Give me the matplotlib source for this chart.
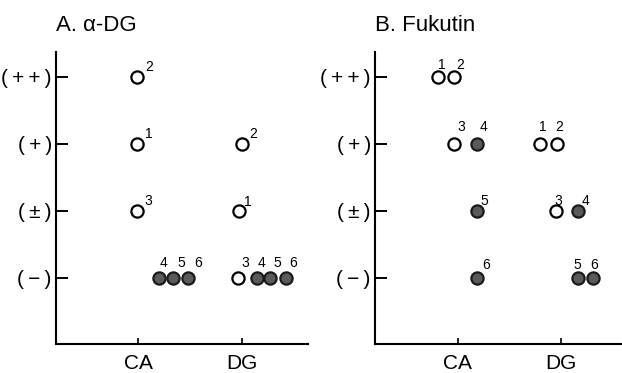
import matplotlib
matplotlib.use("Agg")
import matplotlib.pyplot as plt

plt.rcParams['font.family'] = ['Liberation Sans', 'DejaVu Sans']

categories = ["CA", "DG"]
levels = ["(\u2009−\u2009)", "(\u2009±\u2009)", "(\u2009+\u2009)", "(\u2009+\u2009+\u2009)"]

# Panel A: alpha-DG  (category index + small horizontal jitter, level index, sample id, filled?)
a_cat = [0, 0, 0, 0, 0, 0, 1, 1, 1, 1, 1, 1]
a_jit = [-0.01, -0.01, -0.01, 0.20, 0.335, 0.48, 0.005, -0.02, -0.03, 0.15, 0.28, 0.43]
a_lev = [3, 2, 1, 0, 0, 0, 2, 1, 0, 0, 0, 0]
a_id = ["2", "1", "3", "4", "5", "6", "2", "1", "3", "4", "5", "6"]
a_fill = [False, False, False, True, True, True, False, False, False, True, True, True]
a_lbl_off = [(12, -10), (11, -10), (11, -10), (4, -15), (8, -15), (10, -15),
             (11, -10), (8, -9), (7, -15), (5, -15), (7, -15), (7, -15)]

# Panel B: Fukutin
b_cat = [0, 0, 0, 0, 0, 0, 1, 1, 1, 1, 1, 1]
b_jit = [-0.19, -0.04, -0.04, 0.19, 0.19, 0.19, -0.20, -0.04, -0.05, 0.16, 0.16, 0.31]
b_lev = [3, 3, 2, 2, 1, 0, 2, 2, 1, 1, 0, 0]
b_id = ["1", "2", "3", "4", "5", "6", "1", "2", "3", "4", "5", "6"]
b_fill = [False, False, False, True, True, True, False, False, False, True, True, True]
b_lbl_off = [(4, -12), (7, -12), (8, -17), (6, -17), (7, -10), (9, -13),
             (2, -17), (2, -17), (2, -10), (8, -10), (0, -13), (1, -13)]

fig = plt.figure(figsize=(6.22, 3.73), dpi=100)
axA = fig.add_axes([56/622, 29/373, 252/622, 292/373])
axB = fig.add_axes([375/622, 29/373, 247/622, 292/373])

def draw(ax, cat, jit, lev, ids, fill, offs, title, xmax):
    for c, j, l, s, f, o in zip(cat, jit, lev, ids, fill, offs):
        x = c + j
        ax.plot([x], [l], marker='o', ms=8.8, mew=1.6,
                mfc='#5a5a5a' if f else 'white', mec='#1a1a1a' if f else 'black',
                ls='none', zorder=3)
        ax.annotate(s, (x, l), xytext=(o[0]*0.72, -o[1]*0.72), textcoords='offset points',
                    ha='center', va='center', fontsize=10)
    ax.set_xlim(-0.80, xmax)
    ax.set_ylim(-0.99, 3.37)
    ax.set_xticks(range(len(categories)))
    ax.set_xticklabels(categories, fontsize=15)
    ax.set_yticks(range(len(levels)))
    ax.set_yticklabels(levels, fontsize=15)
    for sp in ['top', 'right']:
        ax.spines[sp].set_visible(False)
    for sp in ['left', 'bottom']:
        ax.spines[sp].set_linewidth(1.5)
    ax.tick_params(axis='y', direction='in', length=8.6, width=1.4, pad=3)
    ax.tick_params(axis='x', direction='in', length=4.3, width=1.2, pad=7)
    ax.set_title(title, loc='left', fontsize=16, pad=15, x=0.0)

draw(axA, a_cat, a_jit, a_lev, a_id, a_fill, a_lbl_off, "A. α-DG", 1.645)
draw(axB, b_cat, b_jit, b_lev, b_id, b_fill, b_lbl_off, "B. Fukutin", 1.59)

fig.savefig("out.png", dpi=100)
